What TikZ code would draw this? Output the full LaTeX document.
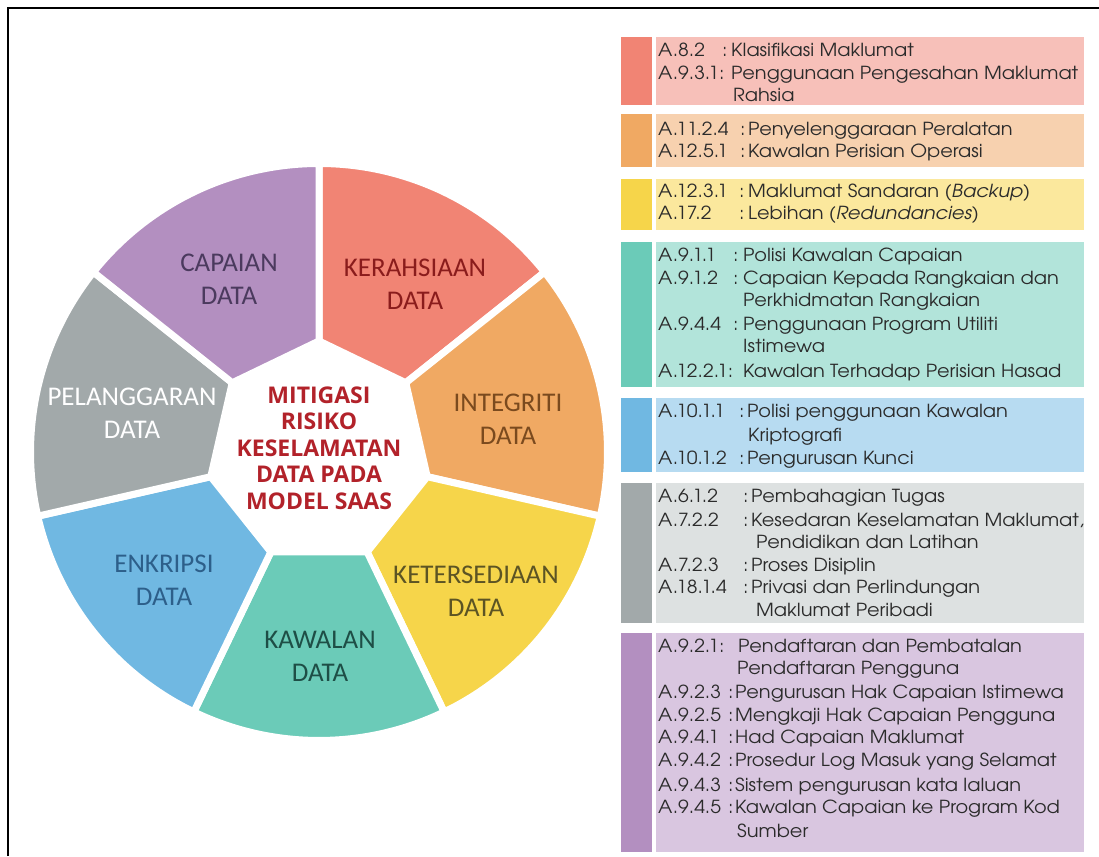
\documentclass[tikz,border=0pt]{standalone}
\usepackage{fontspec}
\setmainfont{texgyreadventor}[Extension=.otf, UprightFont=*-regular, ItalicFont=*-italic, BoldFont=*-bold, FakeStretch=1.075]
\newfontfamily\wheelfont{Carlito}
\newfontfamily\hubfont{Open Sans}
\definecolor{cRed}{HTML}{F18474}
\definecolor{cOrange}{HTML}{F0A963}
\definecolor{cYellow}{HTML}{F6D54A}
\definecolor{cTeal}{HTML}{6BCBB8}
\definecolor{cBlue}{HTML}{70B8E2}
\definecolor{cGray}{HTML}{A2A9AA}
\definecolor{cPurple}{HTML}{B38FC0}
\definecolor{lRed}{HTML}{F7C0B9}
\definecolor{lOrange}{HTML}{F7D1AF}
\definecolor{lYellow}{HTML}{FBE89D}
\definecolor{lTeal}{HTML}{B2E4DA}
\definecolor{lBlue}{HTML}{B7DBF1}
\definecolor{lGray}{HTML}{DDE1E1}
\definecolor{lPurple}{HTML}{D9C6E0}
\definecolor{tPurple}{HTML}{4B3A5E}
\definecolor{tRed}{HTML}{8A1C1C}
\definecolor{tOrange}{HTML}{7A4A1E}
\definecolor{tYellow}{HTML}{5C5424}
\definecolor{tTeal}{HTML}{1E4E46}
\definecolor{tBlue}{HTML}{2D5F8A}
\definecolor{hub}{HTML}{B2222A}
\definecolor{txt}{HTML}{2B2B2B}
\newcommand\panelbox[5]{%
  \node[stripbox, fill=#4, minimum height={#3-#2}] (#1s) at (621,{856-#2}) {};
  \node[pbox, fill=#5, minimum height={#3-#2}] (#1b) at (656,{856-#2}) {};}
% name, y, code, colon x, desc x, desc
\newcommand\refrow[6]{%
  \node[reftext] (#1c) at (658,{856-#2}) {#3};
  \node[reftext] (#1k) at (#4,{856-#2}) {:};
  \node[reftext] (#1d) at (#5,{856-#2}) {#6};}
% name, y, code with colon, desc x, desc
\newcommand\refrowj[5]{%
  \node[reftext] (#1c) at (658,{856-#2}) {#3};
  \node[reftext] (#1d) at (#4,{856-#2}) {#5};}
\newcommand\refcont[4]{%
  \node[reftext] (#1) at (#3,{856-#2}) {#4};}
\begin{document}
\begin{tikzpicture}[x=1pt,y=1pt,
  sector/.style={draw=white, line width=7pt, line join=round},
  wlabel/.style={align=center, inner sep=0pt, font=\wheelfont\fontsize{27}{33}\selectfont},
  stripbox/.style={anchor=north west, minimum width=31, inner sep=0pt, outer sep=0pt, draw=none},
  pbox/.style={anchor=north west, minimum width=428, inner sep=0pt, outer sep=0pt, draw=none},
  reftext/.style={anchor=base west, inner sep=0pt, font=\fontsize{18}{22}\selectfont, text=txt}]
\useasboundingbox (0,0) rectangle (1099,856);
\fill[white] (0,0) rectangle (1099,856);
\draw[line width=2pt] (8,0) -- (8,848) -- (1099,848);
% wheel
\begin{scope}[shift={(319,404)}]
\foreach \a/\b/\c in {90/38.571/cRed, 38.571/-12.857/cOrange, -12.857/-64.286/cYellow,
  -64.286/-115.714/cTeal, -115.714/-167.143/cBlue, -167.143/-218.571/cGray, -218.571/-270/cPurple}
  \filldraw[sector, fill=\c] (\a:111) -- (\b:111) -- (\b:288.5) arc[start angle=\b, end angle=\a, radius=288.5] -- cycle;
\end{scope}
\node[wlabel, text=tPurple] (capaian) at (229,{856-279}) {CAPAIAN\\DATA};
\node[wlabel, text=tRed] (kerahsiaan) at (415,{856-284}) {KERAHSIAAN\\DATA};
\node[wlabel, text=white] (pelanggaran) at (132,{856-413}) {PELANGGARAN\\DATA};
\node[wlabel, text=tOrange] (integriti) at (508,{856-419}) {INTEGRITI\\DATA};
\node[wlabel, text=tBlue] (enkripsi) at (164,{856-580}) {ENKRIPSI\\DATA};
\node[wlabel, text=tYellow] (ketersediaan) at (476,{856-591}) {KETERSEDIAAN\\DATA};
\node[wlabel, text=tTeal] (kawalan) at (320,{856-656}) {KAWALAN\\DATA};
\node[align=center, inner sep=0pt, text=hub, font=\hubfont\bfseries\fontsize{23}{26.5}\selectfont] (hubtext) at (319,{856-448})
  {MITIGASI\\RISIKO\\KESELAMATAN\\DATA PADA\\MODEL SAAS};
% panel
\panelbox{p1}{37}{105}{cRed}{lRed}
\panelbox{p2}{114}{167}{cOrange}{lOrange}
\panelbox{p3}{179}{230}{cYellow}{lYellow}
\panelbox{p4}{242}{387}{cTeal}{lTeal}
\panelbox{p5}{398}{472}{cBlue}{lBlue}
\panelbox{p6}{483}{623}{cGray}{lGray}
\panelbox{p7}{633}{852}{cPurple}{lPurple}
% red
\refrow{a1}{57}{A.8.2}{722}{731}{Klasifikasi Maklumat}
\refrowj{a2}{80}{A.9.3.1:}{731}{Penggunaan Pengesahan Maklumat}
\refcont{a3}{102}{733}{Rahsia}
% orange
\refrow{b1}{136}{A.11.2.4}{740}{748}{Penyelenggaraan Peralatan}
\refrow{b2}{158}{A.12.5.1}{740}{748}{Kawalan Perisian Operasi}
% yellow
\refrow{c1}{198}{A.12.3.1}{739}{748}{Maklumat Sandaran (\textit{Backup})}
\refrow{c2}{220}{A.17.2}{739}{748}{Lebihan \textit{(Redundancies)}}
% teal
\refrow{d1}{262}{A.9.1.1}{733}{743}{Polisi Kawalan Capaian}
\refrow{d2}{285}{A.9.1.2}{733}{743}{Capaian Kepada Rangkaian dan}
\refcont{d3}{307}{743}{Perkhidmatan Rangkaian}
\refrow{d4}{331}{A.9.4.4}{733}{743}{Penggunaan Program Utiliti}
\refcont{d5}{353}{743}{Istimewa}
\refrowj{d6}{378}{A.12.2.1:}{743}{Kawalan Terhadap Perisian Hasad}
% blue
\refrow{e1}{418}{A.10.1.1}{739}{747}{Polisi penggunaan Kawalan}
\refcont{e2}{442}{748}{Kriptografi}
\refrow{e3}{465}{A.10.1.2}{739}{747}{Pengurusan Kunci}
% gray
\refrow{f1}{503}{A.6.1.2}{743}{751}{Pembahagian Tugas}
\refrow{f2}{527}{A.7.2.2}{743}{751}{Kesedaran Keselamatan Maklumat,}
\refcont{f3}{549}{756}{Pendidikan dan Latihan}
\refrow{f4}{572}{A.7.2.3}{743}{751}{Proses Disiplin}
\refrow{f5}{594}{A.18.1.4}{743}{751}{Privasi dan Perlindungan}
\refcont{f6}{617}{756}{Maklumat Peribadi}
% purple
\refrowj{g1}{653}{A.9.2.1:}{738}{Pendaftaran dan Pembatalan}
\refcont{g2}{675}{737}{Pendaftaran Pengguna}
\refrow{g3}{699}{A.9.2.3}{728}{735}{Pengurusan Hak Capaian Istimewa}
\refrow{g4}{722}{A.9.2.5}{728}{735}{Mengkaji Hak Capaian Pengguna}
\refrow{g5}{744}{A.9.4.1}{728}{735}{Had Capaian Maklumat}
\refrow{g6}{767}{A.9.4.2}{728}{735}{Prosedur Log Masuk yang Selamat}
\refrow{g7}{791}{A.9.4.3}{728}{735}{Sistem pengurusan kata laluan}
\refrow{g8}{813}{A.9.4.5}{728}{735}{Kawalan Capaian ke Program Kod}
\refcont{g9}{837}{737}{Sumber}
\end{tikzpicture}
\end{document}
